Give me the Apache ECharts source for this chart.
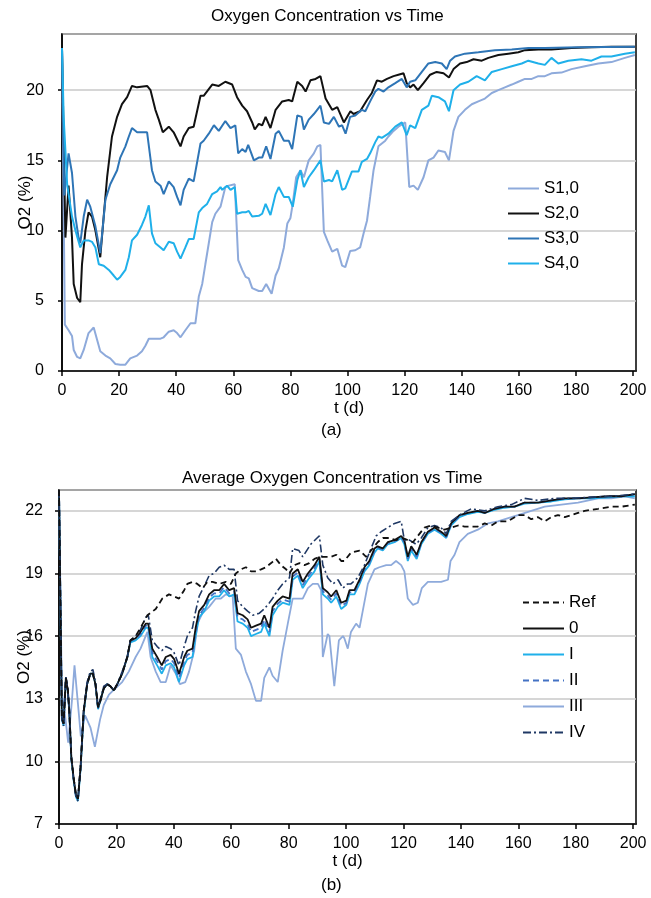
<!DOCTYPE html>
<html>
<head>
<meta charset="utf-8">
<script src="https://cdn.jsdelivr.net/npm/echarts@6/dist/echarts.min.js"></script>
<style>
  html, body { margin: 0; padding: 0; background: #fff; }
  #main { width: 651px; height: 898px; }
</style>
</head>
<body>
<div id="main"></div>
<script>
// (a) Oxygen concentration per sensor, [t (d), O2 (%)]
var s1 = [[0,23.0],[1.0,3.3],[2.3,2.9],[3.5,2.5],[4.1,1.5],[5.3,1.0],[6.4,0.9],[7.6,1.5],[9.3,2.7],[11.1,3.1],[11.7,3.0],[13.4,1.4],[15.2,1.1],[16.9,0.9],[18.7,0.5],[20.4,0.45],[22.2,0.45],[23.9,0.9],[26.3,1.1],[28.0,1.4],[29.2,1.8],[30.4,2.3],[32.7,2.3],[34.5,2.3],[35.6,2.4],[37.4,2.8],[39.1,2.9],[40.3,2.7],[41.5,2.4],[43.2,2.9],[45.0,3.4],[46.7,3.4],[47.9,5.3],[49.1,6.2],[50.2,7.6],[51.4,9.1],[52.6,10.6],[53.7,11.2],[55.5,11.7],[57.2,13.1],[58.4,13.2],[60.5,13.3],[61.7,7.9],[63.1,7.2],[64.3,6.7],[65.4,6.6],[66.6,5.9],[68.9,5.7],[70.1,5.7],[71.5,6.2],[73.4,5.5],[74.8,6.8],[75.9,7.3],[77.7,8.8],[78.9,10.5],[80.0,10.9],[80.8,11.9],[82.0,13.8],[83.5,14.3],[84.7,13.8],[86.4,15.0],[88.2,15.5],[89.4,16.0],[90.5,16.1],[91.7,9.9],[92.9,9.3],[94.6,8.5],[96.4,8.7],[98.1,7.5],[99.2,7.4],[100.9,8.55],[102.7,8.6],[104.4,8.8],[105.6,9.8],[106.8,10.7],[107.9,12.4],[109.1,14.3],[110.8,16.0],[113.2,16.4],[114.3,16.7],[116.1,17.1],[117.8,17.4],[120.2,17.7],[121.6,13.1],[123.1,13.2],[124.6,12.9],[126.6,13.8],[128.3,15.0],[130.1,15.2],[131.8,15.7],[134.1,15.6],[135.5,15.0],[137.1,17.1],[138.8,18.1],[141.1,18.6],[143.5,19.0],[145.8,19.2],[148.1,19.4],[150.5,19.8],[152.8,20.0],[155.1,20.2],[157.5,20.4],[159.8,20.6],[162.1,20.8],[164.5,20.8],[166.8,21.0],[169.1,21.0],[171.4,21.2],[174.9,21.25],[178.4,21.5],[183.1,21.7],[187.8,21.9],[192.4,22.0],[197.1,22.3],[200.6,22.5]];
var s2 = [[0,23.0],[1.2,9.5],[2.3,13.2],[3.5,9.5],[4.1,6.2],[5.3,5.2],[6.4,4.9],[7.0,7.6],[8.2,10.0],[9.3,11.3],[10.5,11.0],[11.7,10.0],[13.4,8.1],[14.6,11.0],[15.8,13.8],[17.5,16.7],[19.3,18.1],[21.0,19.0],[22.8,19.5],[24.5,20.3],[26.3,20.2],[29.8,20.3],[31.0,20.0],[32.7,18.6],[33.9,17.9],[35.3,17.0],[37.4,17.4],[39.1,17.0],[41.5,16.0],[42.6,16.7],[44.4,17.3],[46.1,17.4],[48.5,19.6],[49.6,19.6],[52.6,20.4],[54.9,20.3],[57.2,20.6],[59.6,20.4],[61.3,19.5],[63.1,18.9],[64.8,18.5],[66.6,17.7],[67.5,17.2],[68.9,17.6],[70.1,17.5],[71.3,18.1],[73.0,17.3],[74.8,18.6],[77.1,19.2],[79.4,19.3],[80.6,19.2],[82.4,20.6],[84.1,20.3],[85.3,19.9],[87.0,20.7],[88.8,20.8],[90.5,21.0],[92.3,19.4],[94.6,18.6],[96.4,18.8],[98.7,17.7],[101.0,18.5],[102.1,18.3],[104.4,18.5],[106.8,19.3],[108.5,19.8],[110.3,20.7],[112.0,20.6],[113.8,20.8],[116.1,21.0],[117.8,21.1],[119.6,21.2],[120.7,20.5],[121.9,20.2],[123.1,20.4],[124.6,20.0],[126.6,20.5],[128.9,21.1],[131.2,21.3],[133.6,21.2],[135.5,20.9],[137.1,21.5],[139.4,21.9],[141.7,22.0],[144.1,22.2],[147.0,22.1],[149.3,22.3],[152.8,22.5],[156.3,22.6],[159.8,22.7],[162.1,22.85],[166.8,22.9],[171.4,22.9],[178.4,23.0],[185.4,23.05],[192.4,23.1],[200.6,23.1]];
var s3 = [[0,23.0],[0.8,12.5],[2.3,15.5],[3.5,14.1],[4.7,11.0],[5.8,9.5],[6.4,9.1],[7.6,11.0],[8.8,12.2],[9.9,11.7],[11.7,10.3],[13.4,8.4],[15.2,12.2],[16.9,13.3],[19.3,14.3],[20.4,15.2],[22.2,16.0],[23.4,16.7],[24.5,17.3],[26.3,17.0],[29.8,17.0],[30.4,17.1],[31.5,14.3],[32.7,13.5],[34.5,13.2],[35.6,12.6],[37.4,13.5],[39.1,13.1],[40.3,12.4],[41.5,11.8],[42.6,12.9],[44.4,13.7],[46.1,13.5],[48.5,16.2],[49.6,16.4],[51.4,16.9],[53.2,17.5],[54.9,17.1],[57.2,17.8],[59.0,17.3],[60.7,17.5],[61.7,15.5],[63.1,15.8],[64.3,15.6],[65.2,16.1],[67.2,15.0],[68.9,15.2],[70.1,15.2],[71.5,16.0],[73.0,15.1],[74.8,16.9],[75.9,17.1],[77.7,16.4],[79.4,16.4],[80.6,15.8],[82.4,18.2],[83.9,18.1],[84.7,17.2],[86.4,17.9],[88.2,18.3],[90.5,18.9],[91.7,17.7],[93.5,17.6],[95.2,18.1],[97.0,17.4],[98.1,17.5],[99.3,16.9],[100.9,18.1],[102.7,18.2],[105.0,18.6],[106.2,18.5],[107.9,19.2],[109.7,19.9],[110.8,20.1],[112.6,19.9],[114.3,20.2],[116.7,20.5],[119.0,20.8],[120.7,20.2],[121.9,20.6],[123.7,20.7],[126.0,21.3],[128.3,21.9],[130.7,22.0],[133.0,21.9],[134.7,21.5],[135.9,22.1],[137.6,22.4],[141.1,22.6],[145.8,22.7],[151.6,22.85],[157.5,22.9],[163.3,23.0],[169.1,23.0],[180.8,23.05],[200.6,23.1]];
var s4 = [[0,23.0],[0.6,18.0],[1.8,13.3],[3.5,11.0],[4.7,10.0],[6.4,8.8],[7.6,9.3],[9.3,9.3],[10.5,9.2],[11.7,8.8],[12.9,7.6],[14.6,7.5],[16.4,7.2],[18.1,6.8],[19.3,6.5],[20.4,6.7],[22.2,7.2],[23.4,8.1],[24.5,9.3],[26.3,9.7],[28.0,10.4],[29.2,11.0],[30.4,11.8],[31.5,9.8],[32.7,9.1],[34.5,8.8],[35.6,8.6],[37.4,9.2],[39.1,9.1],[40.3,8.5],[41.5,8.0],[43.2,8.8],[44.4,9.4],[46.1,9.4],[47.9,11.3],[49.1,11.6],[50.8,11.9],[52.6,12.6],[54.3,12.8],[55.5,13.1],[56.1,12.9],[57.8,13.2],[59.0,12.9],[60.5,13.1],[61.3,11.2],[63.1,11.3],[64.3,11.3],[65.4,11.4],[66.6,11.0],[68.9,11.05],[70.1,11.2],[71.3,11.9],[73.0,11.1],[74.8,12.6],[75.9,13.1],[77.7,12.4],[79.4,12.4],[80.8,11.7],[82.4,13.6],[83.5,14.3],[84.7,13.1],[86.4,13.8],[88.2,14.3],[90.5,15.0],[91.7,13.5],[93.5,13.6],[94.6,13.5],[96.4,14.3],[98.1,12.9],[99.2,13.0],[101.5,14.2],[103.8,14.2],[105.0,14.9],[106.8,15.1],[107.9,15.5],[109.7,16.3],[110.8,16.7],[112.0,16.6],[114.3,16.9],[116.7,17.4],[119.0,17.7],[120.7,16.8],[121.9,17.5],[123.7,17.3],[126.0,18.6],[128.3,18.9],[129.5,19.6],[131.8,19.5],[134.1,19.2],[135.5,18.5],[137.1,20.0],[139.4,20.4],[142.3,20.6],[145.2,21.0],[148.1,20.7],[150.5,21.3],[154.0,21.5],[157.5,21.7],[161.0,21.9],[163.3,22.1],[166.8,21.9],[169.1,21.8],[171.4,22.3],[173.8,21.9],[177.3,22.1],[181.9,22.2],[185.4,22.1],[188.9,22.4],[192.4,22.4],[197.1,22.6],[200.6,22.7]];

// (b) Average oxygen concentration; 0, I and II share one time base
var tAvg = [0,1.0,1.6,2.4,3.1,3.6,4.3,5.1,5.9,6.6,7.5,8.6,9.8,10.9,11.8,12.7,13.6,14.4,15.6,16.8,17.9,19.1,20.3,22.0,23.8,24.9,26.7,28.4,30.2,31.1,32.5,34.2,35.8,37.2,38.9,40.1,41.8,43.6,44.7,46.5,47.6,48.8,50.6,52.3,54.0,55.8,57.5,59.3,61.0,62.2,64.0,65.7,66.9,68.6,70.4,71.5,73.3,74.4,76.2,77.9,80.3,81.4,83.2,84.9,86.7,89.0,90.7,91.9,93.6,94.8,96.6,98.3,100.1,101.2,102.9,104.7,106.4,108.1,109.9,111.0,112.8,114.5,116.9,119.2,120.3,121.5,122.7,124.6,126.2,128.5,130.8,133.1,134.9,136.6,139.5,142.4,145.9,148.3,151.7,155.2,158.7,162.2,166.9,171.5,176.2,180.8,185.5,191.3,195.9,200.6];
var v0 = [23.0,12.1,11.8,14.0,13.4,12.4,10.2,9.2,8.4,8.2,9.7,12.4,13.7,14.2,14.2,13.7,12.6,12.9,13.5,13.7,13.6,13.4,13.7,14.2,15.0,15.8,15.9,16.2,16.6,16.6,15.4,15.0,14.6,15.0,15.1,14.9,14.2,15.0,15.3,15.4,16.4,17.2,17.5,18.0,18.2,18.2,18.5,18.2,18.3,17.1,17.0,16.8,16.4,16.5,16.6,17.0,16.4,17.4,17.7,17.9,17.8,19.0,19.2,18.6,19.0,19.4,19.8,18.3,18.1,17.9,18.2,17.6,17.7,18.2,18.2,18.7,19.3,19.6,20.2,20.3,20.2,20.5,20.6,20.8,20.6,19.8,20.3,19.9,20.5,21.0,21.2,21.0,20.8,21.4,21.8,21.9,22.0,21.9,22.1,22.2,22.2,22.4,22.4,22.5,22.6,22.6,22.65,22.7,22.7,22.8];
var vI = [23.0,12.0,11.7,14.0,13.3,12.3,10.1,9.1,8.3,8.1,9.6,12.3,13.7,14.2,14.2,13.7,12.5,12.9,13.5,13.7,13.6,13.4,13.7,14.2,15.0,15.7,15.8,16.0,16.4,16.4,15.0,14.6,14.2,14.6,14.7,14.5,13.8,14.6,14.9,15.0,16.0,16.9,17.2,17.7,17.9,17.9,18.2,17.9,18.0,16.7,16.6,16.4,16.0,16.1,16.2,16.6,16.0,17.0,17.4,17.6,17.5,18.7,18.9,18.3,18.7,19.1,19.6,18.0,17.8,17.6,17.9,17.3,17.5,18.0,18.0,18.5,19.1,19.4,20.0,20.2,20.1,20.4,20.5,20.7,20.4,19.6,20.1,19.7,20.4,20.9,21.1,20.9,20.7,21.3,21.7,21.85,21.95,21.9,22.05,22.15,22.2,22.35,22.4,22.45,22.55,22.6,22.6,22.65,22.7,22.7];
var vII = [23.0,12.1,11.8,14.0,13.4,12.4,10.2,9.2,8.4,8.2,9.7,12.4,13.7,14.2,14.2,13.7,12.6,12.9,13.5,13.7,13.6,13.4,13.7,14.2,15.0,15.8,15.85,16.1,16.5,16.5,15.2,14.8,14.4,14.8,14.9,14.7,14.0,14.8,15.1,15.2,16.2,17.0,17.35,17.85,18.05,18.05,18.35,18.05,18.15,16.9,16.8,16.6,16.2,16.3,16.4,16.8,16.2,17.2,17.55,17.75,17.65,18.85,19.05,18.45,18.85,19.25,19.7,18.15,17.95,17.75,18.05,17.45,17.6,18.1,18.1,18.6,19.2,19.5,20.1,20.25,20.15,20.45,20.55,20.75,20.5,19.7,20.2,19.8,20.45,20.95,21.15,20.95,20.75,21.35,21.75,21.9,22.0,21.9,22.1,22.2,22.2,22.4,22.4,22.5,22.6,22.6,22.65,22.7,22.7,22.8];
var vRef = [[0,23.0],[1.0,12.1],[1.6,11.8],[2.4,14.0],[3.1,13.4],[3.6,12.4],[4.3,10.2],[5.1,9.2],[5.9,8.4],[6.6,8.2],[7.5,9.7],[8.6,12.4],[9.8,13.7],[10.9,14.2],[11.8,14.2],[12.7,13.7],[13.6,12.6],[14.4,12.9],[15.6,13.5],[16.8,13.7],[17.9,13.6],[19.1,13.4],[20.3,13.7],[22.0,14.2],[23.8,15.0],[24.9,15.8],[26.7,16.0],[28.4,16.4],[30.8,17.0],[33.7,17.3],[36.0,17.8],[38.3,18.0],[40.1,17.9],[41.8,17.8],[43.6,18.2],[44.7,18.5],[46.5,18.6],[48.2,18.5],[50.0,18.3],[51.7,18.6],[53.5,18.6],[55.8,18.5],[58.1,18.6],[59.9,18.5],[61.6,19.0],[63.4,19.2],[65.1,19.3],[66.9,19.1],[68.6,19.1],[70.4,19.2],[72.1,19.3],[73.9,19.5],[75.6,19.7],[77.3,19.4],[79.1,19.2],[80.3,19.0],[82.0,19.4],[83.8,19.5],[85.5,19.4],[87.2,19.5],[89.0,19.7],[90.7,19.8],[93.1,19.8],[94.8,19.8],[96.6,19.9],[98.3,19.6],[99.4,19.6],[101.7,20.0],[104.7,20.1],[107.0,19.8],[108.7,20.1],[111.0,20.5],[112.8,20.7],[115.1,20.7],[117.4,20.6],[119.8,20.7],[121.5,20.6],[123.3,20.5],[125.0,20.8],[127.3,21.2],[129.7,21.3],[132.0,21.2],[134.3,21.1],[136.6,21.2],[139.0,21.3],[141.3,21.25],[143.6,21.25],[145.9,21.25],[148.3,21.4],[150.6,21.3],[152.9,21.5],[156.4,21.5],[159.9,21.8],[162.2,21.8],[164.5,21.6],[166.9,21.7],[169.2,21.5],[171.5,21.7],[173.8,21.8],[176.2,21.7],[178.5,21.8],[180.8,21.9],[183.1,22.0],[187.8,22.1],[192.4,22.2],[195.9,22.2],[200.6,22.3]];
var vIII = [[0,23.0],[1.0,13.3],[2.2,12.1],[3.2,10.9],[4.5,12.9],[5.4,14.6],[6.9,12.3],[7.6,11.2],[9.1,12.2],[11.0,11.6],[12.5,10.7],[14.3,12.0],[15.6,12.7],[17.4,13.2],[18.9,13.4],[22.0,13.8],[24.3,14.3],[26.7,15.0],[28.4,15.4],[29.9,15.9],[30.8,16.2],[31.9,15.0],[33.7,14.3],[35.4,13.8],[37.2,13.8],[38.9,14.6],[40.7,14.2],[42.1,13.7],[44.0,13.8],[45.3,14.3],[47.1,15.3],[48.2,16.6],[50.0,17.1],[52.3,17.4],[54.6,17.8],[56.4,17.8],[58.1,18.0],[60.5,17.9],[61.6,15.4],[63.4,15.1],[65.1,14.3],[66.9,13.7],[68.6,12.9],[70.4,12.9],[71.5,14.0],[73.3,14.5],[74.4,14.1],[76.2,13.8],[77.9,15.3],[79.7,16.6],[81.4,17.8],[83.2,17.8],[84.9,17.8],[86.7,18.3],[88.4,18.5],[90.2,18.5],[91.3,18.2],[91.9,15.0],[93.6,16.1],[94.2,16.0],[95.9,13.6],[97.5,15.8],[98.9,16.0],[99.4,15.9],[100.6,15.4],[101.7,16.2],[103.5,16.6],[104.7,16.4],[105.8,17.2],[107.6,18.5],[109.9,19.2],[111.6,19.3],[114.0,19.4],[115.7,19.4],[117.4,19.6],[119.2,19.4],[120.3,19.1],[121.5,17.8],[123.3,17.5],[125.0,17.6],[126.4,18.3],[128.5,18.6],[130.8,18.6],[133.1,18.6],[135.5,18.7],[136.4,19.6],[137.8,19.9],[139.5,20.5],[142.4,20.9],[145.9,21.1],[149.4,21.4],[152.9,21.5],[157.6,21.7],[159.9,21.8],[164.5,22.0],[169.2,22.2],[175.0,22.3],[180.8,22.4],[187.8,22.6],[192.4,22.6],[197.1,22.7],[200.6,22.6]];
var vIV = [[0,23.0],[1.0,12.0],[1.6,11.7],[2.4,14.1],[3.1,13.3],[3.6,12.3],[4.3,10.1],[5.1,9.1],[5.9,8.3],[6.6,8.1],[7.5,9.6],[8.6,12.5],[9.8,13.8],[10.9,14.3],[11.8,14.4],[12.7,13.8],[13.6,12.5],[14.4,13.0],[15.6,13.6],[16.8,13.7],[17.9,13.6],[19.1,13.4],[20.3,13.7],[22.0,14.3],[23.8,15.0],[24.9,15.8],[26.7,16.0],[28.4,16.3],[30.2,16.9],[31.1,17.0],[32.5,15.8],[34.2,15.5],[35.8,15.3],[37.2,15.5],[38.9,15.4],[40.1,15.2],[41.8,14.6],[43.6,15.5],[44.7,16.0],[46.5,16.4],[47.6,17.2],[48.8,17.9],[50.6,18.4],[52.3,18.9],[54.0,19.0],[55.8,19.3],[57.5,19.4],[59.3,19.2],[61.0,19.2],[62.2,17.7],[64.0,17.4],[65.7,17.2],[67.5,17.0],[69.8,17.1],[71.5,17.3],[73.3,17.6],[74.4,17.8],[76.2,18.2],[77.9,18.5],[80.3,18.8],[81.4,20.2],[83.6,20.1],[84.9,19.8],[87.7,20.4],[89.9,20.7],[90.7,20.8],[91.9,19.4],[93.6,18.8],[95.4,18.5],[97.2,18.7],[98.9,18.3],[100.5,18.5],[101.7,18.5],[104.1,18.8],[106.4,19.4],[108.7,20.2],[110.5,20.8],[112.2,21.0],[114.5,21.2],[116.9,21.4],[119.2,21.5],[120.3,20.6],[122.1,20.6],[124.4,20.4],[126.2,20.7],[128.5,21.2],[130.8,21.3],[133.1,21.2],[134.9,20.9],[136.6,21.5],[139.5,21.8],[143.6,22.1],[148.3,22.0],[152.9,22.2],[157.6,22.3],[162.2,22.6],[166.9,22.5],[172.7,22.6],[178.5,22.6],[184.3,22.65],[192.4,22.7],[200.6,22.8]];

var fontFam = '"Liberation Sans", Arial, sans-serif';

function pairs(t, v) {
    return t.map(function (x, i) { return [x, v[i]]; });
}

function xAxisOf(grid) {
    return {
        type: "value", gridIndex: grid, min: 0, max: 201, interval: 20,
        name: "t (d)", nameLocation: "middle", nameGap: 29, nameMoveOverlap: false,
        nameTextStyle: { color: "#000", fontSize: 17, fontFamily: fontFam },
        axisLine: { lineStyle: { color: "#000", width: 1.5 } },
        axisTick: { show: true, length: 5, lineStyle: { color: "#000", width: 1.5 } },
        axisLabel: { color: "#000", fontSize: 16, fontFamily: fontFam, margin: 12, showMaxLabel: false },
        splitLine: { show: false }
    };
}

function yAxisOf(grid, min, max, step, margin, gap) {
    return {
        type: "value", gridIndex: grid, min: min, max: max, interval: step,
        name: "O2 (%)", nameLocation: "middle", nameGap: gap, nameRotate: 90, nameMoveOverlap: false,
        nameTextStyle: { color: "#000", fontSize: 17, fontFamily: fontFam },
        axisLine: { show: true, lineStyle: { color: "#000", width: 1.5 } },
        axisTick: { show: true, length: 4, lineStyle: { color: "#000", width: 1.5 } },
        axisLabel: { color: "#000", fontSize: 16, fontFamily: fontFam, margin: margin, showMaxLabel: false },
        splitLine: { show: true, lineStyle: { color: "#c8c8c8", width: 1.5 } }
    };
}

function line(name, data, color, width, dash, idx) {
    return {
        name: name, type: "line", data: data,
        xAxisIndex: idx, yAxisIndex: idx,
        symbol: "none", animation: false,
        lineStyle: { color: color, width: width, type: dash || "solid" },
        itemStyle: { color: color }
    };
}

var legendText = { color: "#000", fontSize: 17, fontFamily: fontFam };

var myChart = echarts.init(document.getElementById("main"), null, { renderer: "canvas" });
myChart.setOption({
    backgroundColor: "#fff",
    animation: false,
    title: [
        { text: "Oxygen Concentration vs Time", left: 211, top: 8, padding: 0,
          textStyle: { color: "#000", fontSize: 17, fontWeight: "normal", fontFamily: fontFam } },
        { text: "Average Oxygen Concentration vs Time", left: 182, top: 470, padding: 0,
          textStyle: { color: "#000", fontSize: 17, fontWeight: "normal", fontFamily: fontFam } }
    ],
    grid: [
        { left: 62, top: 34, right: 15, height: 337, show: true, borderColor: "#000", borderWidth: 1.5 },
        { left: 59, top: 490, right: 15, height: 334, show: true, borderColor: "#000", borderWidth: 1.5 }
    ],
    xAxis: [xAxisOf(0), xAxisOf(1)],
    yAxis: [yAxisOf(0, 0, 24, 5, 18, 28), yAxisOf(1, 7, 23, 3, 16, 26)],
    legend: [
        { data: ["S1,0", "S2,0", "S3,0", "S4,0"], orient: "vertical", left: 507, top: 180,
          itemWidth: 31, itemHeight: 14, itemGap: 8, padding: 0,
          itemStyle: { opacity: 0 }, textStyle: legendText },
        { data: ["Ref", "0", "I", "II", "III", "IV"], orient: "vertical", left: 522, top: 594,
          itemWidth: 41, itemHeight: 14, itemGap: 9, padding: 0,
          itemStyle: { opacity: 0 }, textStyle: legendText }
    ],
    graphic: [
        { type: "text", left: 321, top: 422, style: { text: "(a)", fill: "#000", font: "17px " + fontFam } },
        { type: "text", left: 321, top: 877, style: { text: "(b)", fill: "#000", font: "17px " + fontFam } }
    ],
    series: [
        line("S1,0", s1, "#8eaadb", 2, null, 0),
        line("S2,0", s2, "#111111", 2, null, 0),
        line("S3,0", s3, "#2e75b6", 2, null, 0),
        line("S4,0", s4, "#1fb0ea", 2, null, 0),
        line("III", vIII, "#8eaadb", 1.8, null, 1),
        line("I", pairs(tAvg, vI), "#1fb0ea", 1.8, null, 1),
        line("II", pairs(tAvg, vII), "#4472c4", 1.8, [6, 4], 1),
        line("0", pairs(tAvg, v0), "#111111", 1.8, null, 1),
        line("IV", vIV, "#1f3864", 1.6, [8, 3, 2, 3], 1),
        line("Ref", vRef, "#111111", 1.8, [6, 4], 1)
    ]
});
</script>
</body>
</html>
